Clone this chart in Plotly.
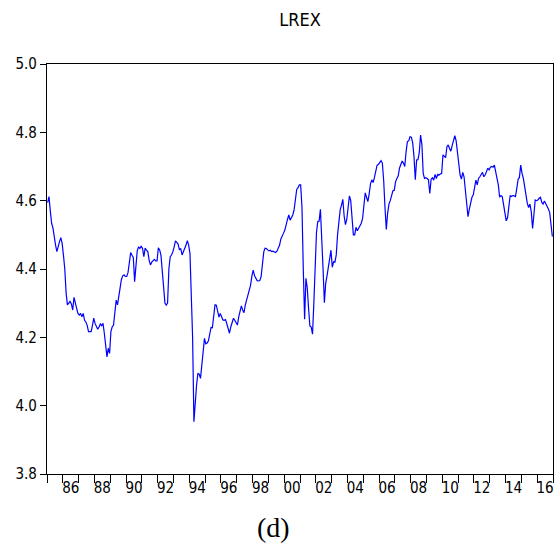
import plotly.graph_objects as go

# Monthly log real exchange rate, 1985M01-2016M12
start_year = 1985
lrex_1985 = [4.594, 4.612, 4.570, 4.534, 4.520, 4.490, 4.470, 4.451, 4.468, 4.480, 4.492, 4.475]
lrex_1986 = [4.440, 4.400, 4.330, 4.295, 4.300, 4.305, 4.298, 4.280, 4.317, 4.295, 4.285, 4.270]
lrex_1987 = [4.265, 4.270, 4.260, 4.270, 4.250, 4.245, 4.235, 4.217, 4.218, 4.217, 4.235, 4.256]
lrex_1988 = [4.240, 4.231, 4.224, 4.230, 4.239, 4.234, 4.241, 4.212, 4.173, 4.143, 4.168, 4.153]
lrex_1989 = [4.217, 4.231, 4.236, 4.270, 4.309, 4.295, 4.320, 4.358, 4.370, 4.380, 4.383, 4.378]
lrex_1990 = [4.378, 4.390, 4.420, 4.448, 4.440, 4.434, 4.363, 4.400, 4.454, 4.465, 4.460, 4.467]
lrex_1991 = [4.460, 4.436, 4.461, 4.455, 4.451, 4.426, 4.412, 4.420, 4.426, 4.428, 4.424, 4.424]
lrex_1992 = [4.462, 4.456, 4.440, 4.400, 4.350, 4.300, 4.294, 4.300, 4.400, 4.436, 4.441, 4.450]
lrex_1993 = [4.465, 4.482, 4.478, 4.473, 4.456, 4.460, 4.441, 4.450, 4.456, 4.470, 4.483, 4.470]
lrex_1994 = [4.446, 4.348, 4.200, 3.953, 4.020, 4.060, 4.095, 4.092, 4.080, 4.125, 4.165, 4.197]
lrex_1995 = [4.181, 4.183, 4.190, 4.212, 4.229, 4.228, 4.260, 4.295, 4.294, 4.280, 4.259, 4.270]
lrex_1996 = [4.260, 4.251, 4.250, 4.252, 4.239, 4.225, 4.212, 4.231, 4.245, 4.256, 4.250, 4.240]
lrex_1997 = [4.236, 4.260, 4.280, 4.292, 4.280, 4.272, 4.295, 4.310, 4.325, 4.344, 4.353, 4.380]
lrex_1998 = [4.397, 4.380, 4.370, 4.366, 4.365, 4.366, 4.378, 4.426, 4.450, 4.461, 4.460, 4.456]
lrex_1999 = [4.453, 4.455, 4.451, 4.452, 4.450, 4.448, 4.452, 4.460, 4.470, 4.488, 4.495, 4.505]
lrex_2000 = [4.514, 4.534, 4.545, 4.558, 4.543, 4.550, 4.558, 4.572, 4.600, 4.633, 4.638, 4.646]
lrex_2001 = [4.646, 4.580, 4.400, 4.253, 4.373, 4.345, 4.285, 4.233, 4.230, 4.209, 4.300, 4.417]
lrex_2002 = [4.506, 4.539, 4.540, 4.575, 4.500, 4.400, 4.301, 4.358, 4.380, 4.405, 4.435, 4.455]
lrex_2003 = [4.405, 4.421, 4.420, 4.441, 4.500, 4.539, 4.573, 4.587, 4.604, 4.555, 4.530, 4.545]
lrex_2004 = [4.578, 4.614, 4.600, 4.540, 4.500, 4.500, 4.522, 4.512, 4.520, 4.525, 4.534, 4.548]
lrex_2005 = [4.590, 4.623, 4.610, 4.597, 4.620, 4.649, 4.661, 4.653, 4.668, 4.690, 4.704, 4.706]
lrex_2006 = [4.712, 4.717, 4.710, 4.660, 4.580, 4.516, 4.563, 4.590, 4.600, 4.612, 4.629, 4.630]
lrex_2007 = [4.655, 4.665, 4.672, 4.695, 4.707, 4.716, 4.710, 4.700, 4.743, 4.773, 4.775, 4.787]
lrex_2008 = [4.786, 4.770, 4.730, 4.661, 4.719, 4.720, 4.740, 4.792, 4.765, 4.680, 4.665, 4.667]
lrex_2009 = [4.665, 4.661, 4.621, 4.663, 4.667, 4.660, 4.677, 4.665, 4.677, 4.675, 4.678, 4.680]
lrex_2010 = [4.734, 4.730, 4.726, 4.758, 4.763, 4.753, 4.745, 4.762, 4.780, 4.790, 4.775, 4.735]
lrex_2011 = [4.710, 4.675, 4.663, 4.683, 4.670, 4.630, 4.590, 4.553, 4.575, 4.595, 4.610, 4.617]
lrex_2012 = [4.636, 4.660, 4.646, 4.665, 4.670, 4.678, 4.683, 4.670, 4.675, 4.685, 4.695, 4.690]
lrex_2013 = [4.698, 4.700, 4.698, 4.704, 4.685, 4.658, 4.646, 4.610, 4.615, 4.612, 4.590, 4.565]
lrex_2014 = [4.541, 4.550, 4.590, 4.615, 4.612, 4.615, 4.614, 4.612, 4.635, 4.662, 4.668, 4.704]
lrex_2015 = [4.680, 4.665, 4.641, 4.612, 4.592, 4.580, 4.590, 4.568, 4.519, 4.558, 4.602, 4.600]
lrex_2016 = [4.602, 4.607, 4.610, 4.595, 4.590, 4.599, 4.592, 4.587, 4.576, 4.565, 4.530, 4.495]

yearly = [
    lrex_1985, lrex_1986, lrex_1987, lrex_1988, lrex_1989, lrex_1990, lrex_1991, lrex_1992,
    lrex_1993, lrex_1994, lrex_1995, lrex_1996, lrex_1997, lrex_1998, lrex_1999, lrex_2000,
    lrex_2001, lrex_2002, lrex_2003, lrex_2004, lrex_2005, lrex_2006, lrex_2007, lrex_2008,
    lrex_2009, lrex_2010, lrex_2011, lrex_2012, lrex_2013, lrex_2014, lrex_2015, lrex_2016,
]

year_labels = ["86", "88", "90", "92", "94", "96", "98", "00",
               "02", "04", "06", "08", "10", "12", "14", "16"]
y_ticks = [3.8, 4.0, 4.2, 4.4, 4.6, 4.8, 5.0]

# each month plotted at the middle of its period on a decimal-year axis
x_vals, y_vals = [], []
for k, months in enumerate(yearly):
    for m, v in enumerate(months):
        x_vals.append(start_year + k + (m + 0.5) / 12)
        y_vals.append(v)

end_year = start_year + len(yearly)
label_pos = [1986.5 + 2 * i for i in range(len(year_labels))]
year_ticks = list(range(start_year, end_year + 1))

fig = go.Figure()
fig.add_trace(go.Scatter(
    x=x_vals, y=y_vals, mode="lines",
    line=dict(color="#0000FF", width=1.2),
    showlegend=False, hoverinfo="skip",
))

narrow = "Liberation Sans Narrow, Arial Narrow, DejaVu Sans Condensed, Liberation Sans, Arial"
axis_font = dict(family=narrow, size=15, color="#000000")

fig.update_layout(
    width=556, height=546,
    margin=dict(l=47, r=3, t=64, b=72),
    paper_bgcolor="white", plot_bgcolor="white",
    title=dict(
        text="LREX", x=0.5, xref="paper", xanchor="center",
        y=1 - 20 / 546, yref="container", yanchor="middle",
        font=dict(family=narrow, size=18, color="#000000"),
    ),
    xaxis=dict(
        range=[start_year, end_year],
        tickmode="array", tickvals=label_pos, ticktext=year_labels,
        ticks="", tickfont=axis_font,
        minor=dict(tickmode="array", tickvals=year_ticks, ticks="outside",
                   ticklen=8, tickwidth=1, tickcolor="#000000", showgrid=False),
        showgrid=False, zeroline=False,
        showline=True, mirror=True, linecolor="#000000", linewidth=1.3,
    ),
    yaxis=dict(
        range=[3.8, 5.0],
        tickmode="array", tickvals=y_ticks, tickformat=".1f",
        ticks="outside", ticklen=6, tickwidth=1, tickcolor="#000000",
        tickfont=axis_font,
        showgrid=False, zeroline=False,
        showline=True, mirror=True, linecolor="#000000", linewidth=1.3,
    ),
    annotations=[dict(
        text="(d)", xref="paper", yref="paper",
        x=(273 - 47) / 506, y=-(527 - 474) / 410,
        xanchor="center", yanchor="middle", showarrow=False,
        font=dict(family="Liberation Serif, Times New Roman, serif", size=28, color="#000000"),
    )],
)

fig.write_html("out.html")
